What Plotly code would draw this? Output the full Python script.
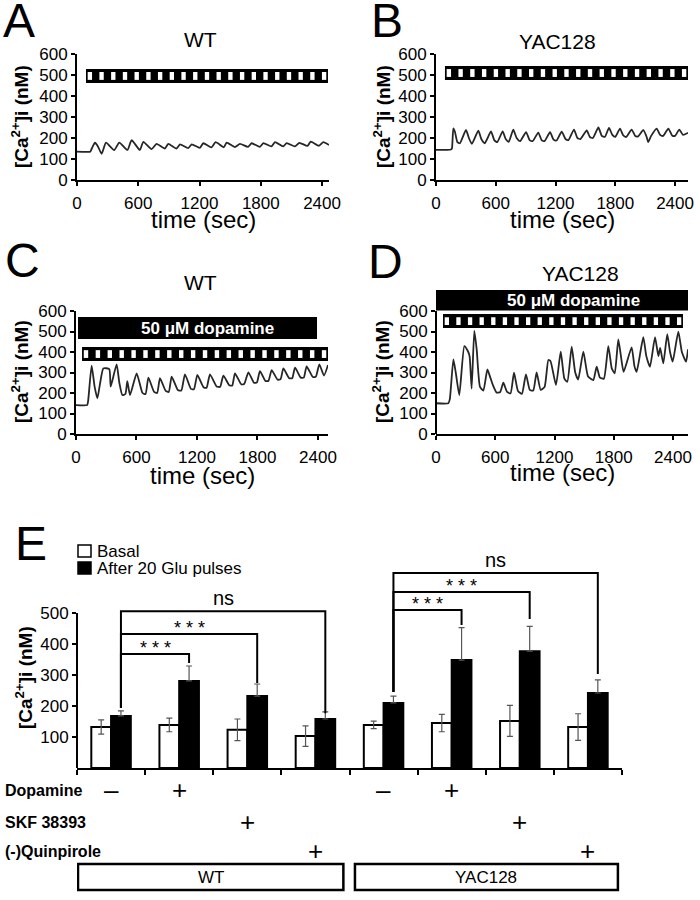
import plotly.graph_objects as go

W, H = 700, 900
FONT = "Arial, Liberation Sans, Helvetica, sans-serif"

# ---------------- data ----------------
time_ticks = [0, 600, 1200, 1800, 2400]
ca_ticks = [0, 100, 200, 300, 400, 500, 600]
bar_ticks = [100, 200, 300, 400, 500]

# Panel A: WT, glutamate pulses only
a_t = [0, 130, 145, 176, 205, 241, 284, 364, 414, 494, 535, 615, 650, 730, 780, 860, 894, 974,
       1009, 1089, 1123, 1203, 1237, 1317, 1358, 1438, 1466, 1546, 1596, 1676, 1711, 1791, 1825,
       1905, 1939, 2019, 2054, 2134, 2178, 2258, 2289, 2369, 2413, 2468]
a_ca = [135, 135, 150, 178, 160, 125, 178, 142, 178, 143, 190, 143, 182, 147, 172, 150, 172, 150,
        170, 152, 170, 153, 175, 155, 180, 156, 178, 157, 172, 158, 175, 158, 176,
        160, 180, 160, 176, 160, 177, 162, 183, 163, 180, 167]

# Panel B: YAC128, glutamate pulses only
b_t = [0, 150, 160, 174, 190, 215, 240, 301, 330, 360, 425, 455, 490, 552, 585, 615, 669, 700, 730,
       776, 810, 845, 904, 940, 970, 1027, 1060, 1090, 1145, 1180, 1210, 1262, 1300, 1330, 1385,
       1420, 1450, 1513, 1545, 1575, 1630, 1665, 1695, 1737, 1770, 1800, 1847, 1880, 1910, 1964,
       2000, 2030, 2082, 2115, 2130, 2160, 2215, 2250, 2280, 2333, 2370, 2400, 2443, 2480, 2530]
b_ca = [143, 145, 150, 246, 230, 180, 175, 238, 200, 172, 235, 195, 175, 232, 190, 180, 232, 195, 182,
        240, 200, 185, 228, 190, 185, 226, 190, 185, 228, 192, 188, 230, 195, 190, 240,
        200, 195, 236, 205, 200, 250, 210, 205, 248, 215, 205, 245, 212, 205, 240,
        210, 208, 238, 205, 180, 210, 245, 215, 210, 245, 212, 210, 240, 215, 225]

# Panel C: WT, glutamate pulses + dopamine
c_t = [0, 110, 120, 155, 185, 212, 240, 271, 330, 344, 403, 430, 460, 490, 509, 536, 602, 660, 690,
       718, 775, 805, 833, 890, 920, 949, 1010, 1045, 1081, 1140, 1170, 1204, 1265, 1295, 1329,
       1395, 1430, 1462, 1520, 1550, 1577, 1640, 1670, 1710, 1765, 1795, 1825, 1880, 1910, 1941,
       2000, 2030, 2057, 2115, 2145, 2173, 2230, 2260, 2288, 2350, 2380, 2414, 2460, 2500]
c_ca = [141, 141, 160, 333, 230, 174, 250, 320, 317, 231, 340, 250, 190, 195, 258, 190, 296, 200, 195,
        275, 205, 200, 272, 210, 205, 280, 215, 212, 291, 220, 218, 288, 228, 225, 291,
        232, 230, 285, 238, 236, 296, 242, 245, 301, 250, 252, 307, 258, 260, 312,
        265, 268, 320, 272, 272, 324, 275, 275, 330, 278, 280, 340, 285, 337]

# Panel D: YAC128, glutamate pulses + dopamine
d_t = [0, 125, 140, 176, 200, 236, 287, 321, 340, 361, 388, 412, 445, 480, 520, 547, 575, 614, 650,
       682, 720, 755, 790, 830, 870, 911, 950, 985, 1019, 1060, 1100, 1138, 1160, 1215, 1263,
       1300, 1330, 1374, 1410, 1440, 1492, 1540, 1593, 1627, 1660, 1700, 1745, 1780, 1810, 1846,
       1870, 1900, 1981, 2010, 2032, 2099, 2130, 2167, 2218, 2252, 2270, 2302, 2342, 2370, 2397,
       2454, 2490, 2532, 2552]
d_ca = [150, 150, 170, 364, 300, 190, 429, 406, 380, 222, 503, 413, 231, 212, 315, 280, 240, 202, 205,
        250, 205, 198, 299, 210, 196, 291, 215, 212, 301, 215, 230, 361, 355, 239, 402,
        270, 255, 426, 300, 266, 402, 280, 263, 329, 275, 270, 429, 320, 296, 462,
        390, 303, 423, 330, 303, 472, 380, 328, 472, 380, 420, 345, 487, 400, 353,
        499, 400, 353, 413]

# Stimulation bars (seconds, nM)
a_glu_bar = (88, 2458, 462, 529)
b_glu_bar = (90, 2530, 476, 543)
c_da_bar = (20, 2391, 463, 571)
c_glu_bar = (60, 2500, 356, 424)
d_da_bar = (0, 2582, 602, 702)
d_glu_bar = (71, 2501, 517, 585)
n_gaps = 21

# Panel E: summary bars
groups = ["WT ctrl", "WT DA", "WT SKF", "WT Quin", "YAC ctrl", "YAC DA", "YAC SKF", "YAC Quin"]
basal_mean = [132, 139, 123, 103, 139, 145, 152, 132]
basal_sem = [23, 22, 35, 33, 12, 28, 50, 43]
glu_mean = [168, 281, 232, 158, 210, 348, 377, 242]
glu_sem = [16, 48, 39, 23, 22, 105, 80, 42]

dopamine_row = ["\u2013", "+", "", "", "\u2013", "+", "", ""]
skf_row = ["", "", "+", "", "", "", "+", ""]
quin_row = ["", "", "", "+", "", "", "", "+"]
genotypes = ["WT", "YAC128"]
genotype_span = [(-0.485, 3.41), (3.58, 7.44)]

# brackets: (from group, to group, level, end, start, label)
brackets = [
    (0, 1, 368, 339, 194, "* * *"),
    (0, 2, 432, 274, 194, "* * *"),
    (0, 3, 506, 177, 194, "ns"),
    (4, 5, 510, 461, 245, "* * *"),
    (4, 6, 568, 481, 245, "* * *"),
    (4, 7, 629, 303, 245, "ns"),
]

# ---------------- figure ----------------
fig = go.Figure()
line_style = dict(color="#262626", width=1.8, shape="spline", smoothing=0.5)
for i, (t, v) in enumerate([(a_t, a_ca), (b_t, b_ca), (c_t, c_ca), (d_t, d_ca)]):
    sfx = "" if i == 0 else str(i + 1)
    fig.add_trace(go.Scatter(x=t, y=v, mode="lines", line=line_style,
                             xaxis="x" + sfx, yaxis="y" + sfx, showlegend=False, hoverinfo="skip"))

xs = list(range(len(groups)))
fig.add_trace(go.Bar(x=xs, y=basal_mean, marker=dict(color="white", line=dict(color="black", width=2)),
                     error_y=dict(type="data", array=basal_sem, color="#555", thickness=1.2, width=3),
                     xaxis="x5", yaxis="y5", showlegend=False, name="Basal"))
fig.add_trace(go.Bar(x=xs, y=glu_mean, marker=dict(color="black", line=dict(color="black", width=2)),
                     error_y=dict(type="data", symmetric=False, array=glu_sem,
                                  arrayminus=[0] * len(glu_sem), color="#555", thickness=1.2, width=3),
                     xaxis="x5", yaxis="y5", showlegend=False, name="After 20 Glu pulses"))

ann = []
for g0, g1, lvl, end, start, lab in brackets:
    xa, xb = xs[g0] + 0.145, xs[g1] + 0.145
    fig.add_trace(go.Scatter(x=[xa, xa, xb, xb], y=[start, lvl, lvl, end], mode="lines",
                             line=dict(color="black", width=2), xaxis="x5", yaxis="y5",
                             showlegend=False, hoverinfo="skip"))
    is_star = lab.startswith("*")
    ann.append(dict(x=(xa + xb) / 2, y=lvl, xref="x5", yref="y5", text=lab, showarrow=False,
                    yanchor="bottom", yshift=-6 if is_star else 0,
                    font=dict(size=18 if is_star else 20, color="black")))


def axis_common():
    return dict(showgrid=False, zeroline=False, showline=True, linecolor="black", linewidth=2,
                ticks="outside", ticklen=4, tickwidth=2, tickcolor="black", automargin=False,
                tickfont=dict(size=17, color="black", family=FONT))


def px(x):
    return x / W


def py(y):
    return 1 - y / H


layout = dict(template="none", width=W, height=H,
              margin=dict(l=0, r=0, t=0, b=0, pad=0, autoexpand=False),
              paper_bgcolor="white", plot_bgcolor="white", font=dict(family=FONT, color="black"),
              barmode="group", bargap=0.42, bargroupgap=0, showlegend=False)

time_panels = [
    ("", (77, 329), 2468, (54, 180), 600),
    ("2", (436, 688), 2530, (54, 180), 600),
    ("3", (76, 328), 2500, (311, 434), 600),
    ("4", (436, 688), 2552, (289.5, 434), 705),
]
for sfx, (x0, x1), xmax, (ytop, ybot), ymax in time_panels:
    xa = axis_common()
    xa.update(domain=[px(x0), px(x1)], range=[0, xmax], tickvals=time_ticks,
              anchor="y" + sfx, ticklabelstandoff=3)
    ya = axis_common()
    ya.update(domain=[py(ybot), py(ytop)], range=[0, ymax], tickvals=ca_ticks, anchor="x" + sfx)
    if ymax > 600:
        ya["showline"] = False
    layout["xaxis" + sfx] = xa
    layout["yaxis" + sfx] = ya

xa5 = axis_common()
xa5.update(domain=[px(77), px(622)], range=[-0.5, len(groups) - 0.5],
           tickvals=[i - 0.5 for i in range(len(groups) + 1)], showticklabels=False,
           ticklen=5, anchor="y5")
ya5 = axis_common()
ya5.update(domain=[py(768), py(566.5)], range=[0, 650], tickvals=bar_ticks, showline=False,
           anchor="x5")
layout["xaxis5"] = xa5
layout["yaxis5"] = ya5

shapes = []


def stripe_bar(xr, yr, bar):
    t0, t1, y0, y1 = bar
    out = [dict(type="rect", xref=xr, yref=yr, x0=t0, x1=t1, y0=y0, y1=y1,
                fillcolor="black", line=dict(width=0), layer="above")]
    L = t1 - t0
    inset = L * 0.007
    w = L * 0.018
    pitch = (L - 2 * inset - w) / (n_gaps - 1)
    yi = (y1 - y0) * 0.22
    for k in range(n_gaps):
        s = t0 + inset + k * pitch
        out.append(dict(type="rect", xref=xr, yref=yr, x0=s, x1=s + w, y0=y0 + yi, y1=y1 - yi,
                        fillcolor="white", line=dict(width=0), layer="above"))
    return out


shapes += stripe_bar("x", "y", a_glu_bar)
shapes += stripe_bar("x2", "y2", b_glu_bar)
shapes += stripe_bar("x3", "y3", c_glu_bar)
shapes += stripe_bar("x4", "y4", d_glu_bar)
for xr, yr, bar in [("x3", "y3", c_da_bar), ("x4", "y4", d_da_bar)]:
    shapes.append(dict(type="rect", xref=xr, yref=yr, x0=bar[0], x1=bar[1], y0=bar[2], y1=bar[3],
                       fillcolor="black", line=dict(width=0)))
    ann.append(dict(x=(bar[0] + bar[1]) / 2, y=(bar[2] + bar[3]) / 2, xref=xr, yref=yr,
                    text="<b>50 \u03bcM dopamine</b>", showarrow=False, xshift=10,
                    font=dict(size=17, color="white")))

# custom y-axis lines (range extended above the drawn axis)
shapes.append(dict(type="line", xref="x4 domain", yref="y4", x0=0, x1=0, y0=0, y1=600,
                   line=dict(color="black", width=2)))
shapes.append(dict(type="line", xref="x5 domain", yref="y5", x0=0, x1=0, y0=0, y1=500,
                   line=dict(color="black", width=2)))

# legend for E
shapes.append(dict(type="rect", xref="paper", yref="paper", x0=px(78), x1=px(91), y0=py(557), y1=py(545),
                   fillcolor="white", line=dict(color="black", width=1.5)))
shapes.append(dict(type="rect", xref="paper", yref="paper", x0=px(78), x1=px(91), y0=py(574), y1=py(562),
                   fillcolor="black", line=dict(color="black", width=1.5)))
ann.append(dict(x=px(95), y=py(551), xref="paper", yref="paper", text="Basal", showarrow=False,
                xanchor="left", font=dict(size=17)))
ann.append(dict(x=px(95), y=py(568), xref="paper", yref="paper", text="After 20 Glu pulses",
                showarrow=False, xanchor="left", font=dict(size=17)))

# genotype boxes
for name, (g0, g1) in zip(genotypes, genotype_span):
    shapes.append(dict(type="rect", xref="x5", yref="paper", x0=g0, x1=g1, y0=py(890), y1=py(864),
                       fillcolor="white", line=dict(color="black", width=2.5)))
    ann.append(dict(x=(g0 + g1) / 2, y=py(877), xref="x5", yref="paper", text=name, showarrow=False,
                    font=dict(size=17)))

# treatment rows
for label, row, yy in [("Dopamine", dopamine_row, 790), ("SKF 38393", skf_row, 822),
                       ("(-)Quinpirole", quin_row, 851)]:
    ann.append(dict(x=px(3), y=py(yy), xref="paper", yref="paper", text="<b>" + label + "</b>",
                    showarrow=False, xanchor="left", font=dict(size=16)))
    for i, s in enumerate(row):
        if s:
            ann.append(dict(x=xs[i], y=py(yy), xref="x5", yref="paper", text=s, showarrow=False,
                            font=dict(size=26)))

# panel titles, letters, axis titles
for txt, x, y in [("WT", 200, 40), ("YAC128", 557, 42), ("WT", 200, 282), ("YAC128", 580, 273)]:
    ann.append(dict(x=px(x), y=py(y), xref="paper", yref="paper", text=txt, showarrow=False,
                    font=dict(size=21)))
for txt, x, y in [("A", 19, 20), ("B", 387, 20), ("C", 22, 260), ("D", 385, 261), ("E", 31, 543)]:
    ann.append(dict(x=px(x), y=py(y), xref="paper", yref="paper", text=txt, showarrow=False,
                    font=dict(size=48)))
for x, y in [(203, 219), (562, 219), (202, 475), (562, 472)]:
    ann.append(dict(x=px(x), y=py(y), xref="paper", yref="paper", text="time (sec)", showarrow=False,
                    font=dict(size=24)))
for x, y in [(20, 117), (382, 117), (20, 372), (381, 372), (24, 678)]:
    ann.append(dict(x=px(x), y=py(y), xref="paper", yref="paper",
                    text="<b>[Ca<sup>2+</sup>]i (nM)</b>", showarrow=False, textangle=-90,
                    font=dict(size=19)))

for a in ann:
    a.setdefault("xanchor", "center")
    a.setdefault("yanchor", "middle")

layout["shapes"] = shapes
layout["annotations"] = ann
fig.update_layout(**layout)
fig.write_html("out.html", config={"displayModeBar": False},
               post_script="document.body.style.margin='0px';")
